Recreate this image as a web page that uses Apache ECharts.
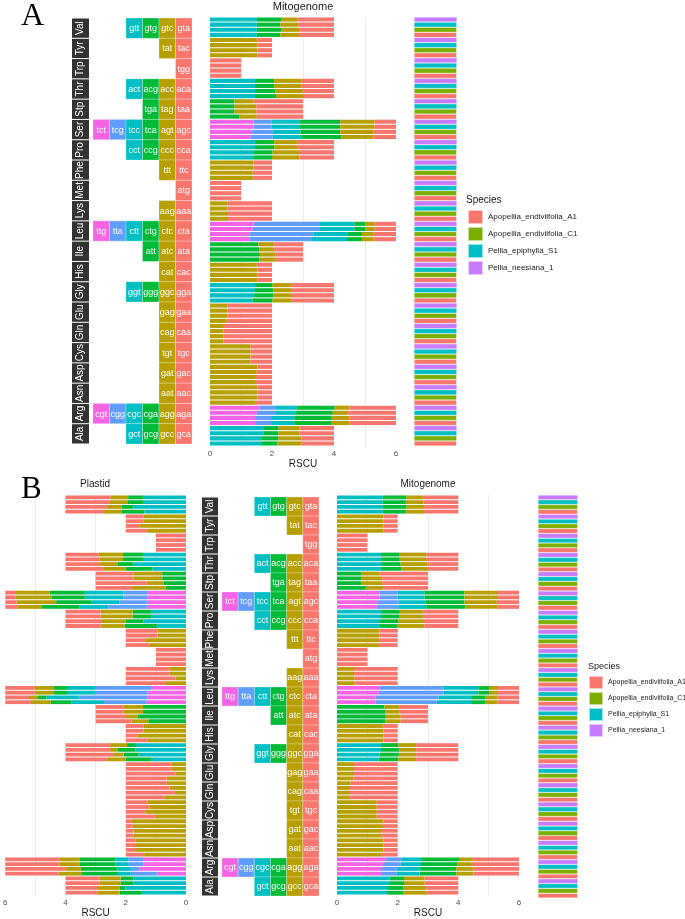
<!DOCTYPE html>
<html>
<head>
<meta charset="utf-8">
<script src="https://cdn.jsdelivr.net/npm/echarts@6/dist/echarts.min.js"></script>
<style>
  html, body { margin: 0; padding: 0; background: #fff; }
  #chart { width: 685px; height: 919px; }
</style>
</head>
<body>
<div id="chart"></div>
<script>
// amino acids, top to bottom
var aminoAcids = ['Val', 'Tyr', 'Trp', 'Thr', 'Stp', 'Ser', 'Pro', 'Phe', 'Met', 'Lys', 'Leu',
    'Ile', 'His', 'Gly', 'Glu', 'Gln', 'Cys', 'Asp', 'Asn', 'Arg', 'Ala'];

// codons of each amino acid, left to right (last one sits in column 6)
var codonsByAA = [
    ['gtt', 'gtg', 'gtc', 'gta'], ['tat', 'tac'], ['tgg'], ['act', 'acg', 'acc', 'aca'],
    ['tga', 'tag', 'taa'], ['tct', 'tcg', 'tcc', 'tca', 'agt', 'agc'], ['cct', 'ccg', 'ccc', 'cca'],
    ['ttt', 'ttc'], ['atg'], ['aag', 'aaa'], ['ttg', 'tta', 'ctt', 'ctg', 'ctc', 'cta'],
    ['att', 'atc', 'ata'], ['cat', 'cac'], ['ggt', 'ggg', 'ggc', 'gga'], ['gag', 'gaa'],
    ['cag', 'caa'], ['tgt', 'tgc'], ['gat', 'gac'], ['aat', 'aac'],
    ['cgt', 'cgg', 'cgc', 'cga', 'agg', 'aga'], ['gct', 'gcg', 'gcc', 'gca']
];

// species, top to bottom inside each amino acid
var speciesRows = ['Pellia_neesiana_1', 'Pellia_epiphylla_S1', 'Apopellia_endiviifolia_C1', 'Apopellia_endiviifolia_A1'];
var legendNames = ['Apopellia_endiviifolia_A1', 'Apopellia_endiviifolia_C1', 'Pellia_epiphylla_S1', 'Pellia_neesiana_1'];

// RSCU, mitogenome
var mitoNeesiana = [
    [1.51, 0.78, 0.54, 1.17], [1.53, 0.47], [1], [1.45, 0.62, 0.87, 1.06], [0.79, 0.61, 1.60],
    [1.40, 0.59, 0.89, 1.32, 1.11, 0.69], [1.45, 0.62, 0.76, 1.17], [1.40, 0.60], [1], [0.56, 1.44],
    [1.40, 2.12, 1.14, 0.35, 0.30, 0.69], [1.56, 0.51, 0.93], [1.51, 0.49], [1.45, 0.57, 0.59, 1.39],
    [0.56, 1.44], [0.45, 1.55], [1.31, 0.69], [1.53, 0.47], [1.53, 0.47],
    [1.59, 0.54, 0.67, 1.22, 0.48, 1.50], [1.74, 0.47, 0.68, 1.11]
];
var mitoEpiphylla = [
    [1.51, 0.76, 0.58, 1.15], [1.53, 0.47], [1], [1.45, 0.62, 0.87, 1.06], [0.79, 0.70, 1.51],
    [1.40, 0.59, 0.89, 1.32, 1.11, 0.69], [1.45, 0.62, 0.76, 1.17], [1.40, 0.60], [1], [0.56, 1.44],
    [1.38, 2.14, 1.14, 0.35, 0.30, 0.69], [1.59, 0.48, 0.93], [1.53, 0.47], [1.45, 0.59, 0.57, 1.39],
    [0.56, 1.44], [0.43, 1.57], [1.31, 0.69], [1.51, 0.49], [1.53, 0.47],
    [1.51, 0.59, 0.67, 1.19, 0.46, 1.58], [1.72, 0.49, 0.68, 1.11]
];
var mitoC1 = [
    [1.51, 0.78, 0.58, 1.13], [1.53, 0.47], [1], [1.45, 0.65, 0.89, 1.01], [0.79, 0.70, 1.51],
    [1.35, 0.68, 0.89, 1.28, 1.07, 0.73], [1.42, 0.60, 0.85, 1.13], [1.38, 0.62], [1], [0.58, 1.42],
    [1.27, 2.07, 1.11, 0.45, 0.38, 0.72], [1.61, 0.49, 0.90], [1.53, 0.47], [1.40, 0.64, 0.57, 1.39],
    [0.56, 1.44], [0.43, 1.57], [1.31, 0.69], [1.45, 0.55], [1.53, 0.47],
    [1.45, 0.52, 0.75, 1.21, 0.57, 1.50], [1.65, 0.55, 0.74, 1.06]
];
var mitoA1 = [
    [1.51, 0.76, 0.60, 1.13], [1.53, 0.47], [1], [1.45, 0.68, 0.87, 1.00], [0.95, 0.56, 1.49],
    [1.31, 0.71, 0.92, 1.30, 1.04, 0.72], [1.42, 0.58, 0.88, 1.12], [1.38, 0.62], [1], [0.58, 1.42],
    [1.27, 2.02, 1.13, 0.48, 0.38, 0.72], [1.59, 0.51, 0.90], [1.53, 0.47], [1.37, 0.65, 0.59, 1.39],
    [0.54, 1.46], [0.43, 1.57], [1.31, 0.69], [1.45, 0.55], [1.45, 0.55],
    [1.45, 0.52, 0.75, 1.21, 0.57, 1.50], [1.65, 0.53, 0.78, 1.04]
];

// RSCU, plastid
var plastidNeesiana = [
    [1.43, 0.49, 0.58, 1.50], [1.41, 0.59], [1], [1.43, 0.66, 0.82, 1.09], [0.79, 0.95, 1.26],
    [1.27, 0.80, 1.29, 1.17, 1.15, 0.32], [1.16, 0.61, 1.06, 1.17], [0.94, 1.06], [1], [0.54, 1.46],
    [1.16, 1.86, 0.90, 0.46, 0.64, 0.98], [1.43, 0.64, 0.93], [1.41, 0.59], [1.66, 0.30, 0.56, 1.48],
    [0.48, 1.52], [0.64, 1.36], [1.27, 0.73], [1.79, 0.21], [1.68, 0.32],
    [1.43, 0.49, 0.42, 1.20, 0.66, 1.80], [1.74, 0.43, 0.69, 1.14]
];
var plastidEpiphylla = [
    [1.43, 0.52, 0.60, 1.45], [1.41, 0.59], [1], [1.43, 0.66, 0.79, 1.12], [0.79, 0.95, 1.26],
    [1.27, 0.80, 1.29, 1.11, 1.18, 0.35], [1.16, 0.61, 1.06, 1.17], [0.94, 1.06], [1], [0.54, 1.46],
    [1.27, 1.75, 0.90, 0.46, 0.64, 0.98], [1.43, 0.65, 0.92], [1.41, 0.59], [1.68, 0.60, 0.24, 1.48],
    [0.48, 1.52], [0.54, 1.46], [1.21, 0.79], [1.77, 0.23], [1.66, 0.34],
    [1.41, 0.49, 0.44, 1.20, 0.66, 1.80], [1.74, 0.43, 0.69, 1.14]
];
var plastidC1 = [
    [1.74, 0.40, 0.49, 1.37], [1.54, 0.46], [1], [1.74, 0.54, 0.57, 1.15], [0.75, 0.55, 1.70],
    [1.30, 0.91, 0.92, 1.18, 1.31, 0.38], [1.41, 0.60, 0.81, 1.18], [1.33, 0.67], [1], [0.35, 1.65],
    [1.27, 2.29, 1.07, 0.28, 0.30, 0.79], [1.60, 0.42, 0.98], [1.60, 0.40], [1.57, 0.50, 0.32, 1.61],
    [0.35, 1.65], [0.37, 1.63], [1.33, 0.67], [1.74, 0.26], [1.66, 0.34],
    [1.54, 0.29, 0.45, 1.21, 0.49, 2.02], [2.01, 0.19, 0.72, 1.08]
];
var plastidA1 = [
    [1.38, 0.77, 0.57, 1.28], [1.30, 0.70], [1], [1.11, 0.90, 0.71, 1.28], [0.68, 1.11, 1.21],
    [1.30, 1.28, 0.96, 1.26, 0.78, 0.42], [0.97, 1.07, 0.79, 1.17], [1.22, 0.78], [1], [0.70, 1.30],
    [1.30, 1.42, 1.09, 0.68, 0.66, 0.85], [1.25, 0.56, 1.19], [1.27, 0.73], [1.16, 0.85, 0.58, 1.41],
    [0.64, 1.36], [0.72, 1.28], [1.00, 1.00], [1.74, 0.26], [1.39, 0.61],
    [0.97, 0.86, 0.43, 1.19, 0.78, 1.77], [1.49, 0.71, 0.74, 1.06]
];

var codonColors = ['#F564E3', '#619CFF', '#00BFC4', '#00BA38', '#B79F00', '#F8766D'];
var speciesColors = {
    'Apopellia_endiviifolia_A1': '#F8766D',
    'Apopellia_endiviifolia_C1': '#7CAE00',
    'Pellia_epiphylla_S1': '#00BFC4',
    'Pellia_neesiana_1': '#C77CFF'
};
var FONT = 'Liberation Sans, Arial, sans-serif';

// one row per amino acid x species
var rowNames = [];
aminoAcids.forEach(function (aa) {
    speciesRows.forEach(function (sp) { rowNames.push(aa + '|' + sp); });
});

// codon tiles
var tiles = [];
codonsByAA.forEach(function (list, a) {
    list.forEach(function (codon, i) {
        tiles.push({ col: 6 - list.length + i, row: a, codon: codon });
    });
});

function tileRender(params, api) {
    var t = tiles[params.dataIndex];
    var p = api.coord([t.col, t.row]);
    var s = api.size([1, 1]);
    return {
        type: 'group',
        children: [{
            type: 'rect',
            shape: { x: p[0] - s[0] / 2, y: p[1] - s[1] / 2, width: s[0], height: s[1] },
            style: { fill: codonColors[t.col], stroke: 'rgba(255,255,255,0.45)', lineWidth: 0.6 }
        }, {
            type: 'text',
            style: {
                text: t.codon, x: p[0], y: p[1] + 0.5, align: 'center', verticalAlign: 'middle',
                fill: '#fff', fontSize: 9, fontFamily: FONT
            }
        }]
    };
}

function stripRender(params, api) {
    var p = api.coord([0, params.dataIndex]);
    var s = api.size([1, 1]);
    return {
        type: 'group',
        children: [{
            type: 'rect',
            shape: { x: p[0] - s[0] / 2, y: p[1] - s[1] / 2 + 0.5, width: s[0], height: s[1] - 1 },
            style: { fill: '#333333' }
        }, {
            type: 'text',
            x: p[0], y: p[1],
            rotation: Math.PI / 2,
            style: {
                text: aminoAcids[params.dataIndex], x: 0, y: 0, align: 'center', verticalAlign: 'middle',
                fill: '#fff', fontSize: 10, fontFamily: FONT
            }
        }]
    };
}

// stacked RSCU bars, one series per codon column
function rscuSeries(prefix, axisIndex, tables) {
    var out = [];
    for (var c = 0; c < 6; c++) {
        var data = [];
        codonsByAA.forEach(function (list, a) {
            var i = c - (6 - list.length);
            tables.forEach(function (t) { data.push(i >= 0 ? t[a][i] : 0); });
        });
        out.push({
            type: 'bar', name: prefix + c, xAxisIndex: axisIndex, yAxisIndex: axisIndex,
            stack: prefix, data: data, barCategoryGap: '20%', silent: true,
            itemStyle: { color: codonColors[c] }
        });
    }
    return out;
}

// species colour column
function speciesSeries(prefix, axisIndex) {
    return legendNames.map(function (sp) {
        var data = rowNames.map(function (r) { return r.split('|')[1] === sp ? 1 : 0; });
        return {
            type: 'bar', name: sp, xAxisIndex: axisIndex, yAxisIndex: axisIndex,
            stack: prefix, data: data, barCategoryGap: '0%', silent: true,
            itemStyle: { color: speciesColors[sp], borderColor: 'rgba(255,255,255,0.6)', borderWidth: 0.5 }
        };
    });
}

function catAxis(gridIndex, data) {
    return { type: 'category', gridIndex: gridIndex, data: data, inverse: true, show: false };
}

function rscuAxis(gridIndex, inverse, nameGap) {
    return {
        type: 'value', gridIndex: gridIndex, min: 0, max: 6, interval: 1, inverse: inverse,
        axisLine: { show: false }, axisTick: { show: false },
        axisLabel: {
            fontSize: 8, color: '#4d4d4d', margin: 4, fontFamily: FONT,
            formatter: function (v) { return v % 2 === 0 ? String(v) : ''; }
        },
        splitLine: { show: true, lineStyle: { color: ['rgba(0,0,0,0)', '#ebebeb'], width: 1 } },
        name: 'RSCU', nameLocation: 'middle', nameGap: nameGap,
        nameTextStyle: { fontSize: 10, color: '#1a1a1a', fontFamily: FONT }
    };
}

var hiddenCat = function (gridIndex, data) {
    return { type: 'category', gridIndex: gridIndex, data: data, show: false };
};
var hiddenVal = function (gridIndex) {
    return { type: 'value', gridIndex: gridIndex, min: 0, max: 1, show: false, splitLine: { show: false } };
};

var colIdx = [0, 1, 2, 3, 4, 5];

var chart = echarts.init(document.getElementById('chart'));
chart.setOption({
    animation: false,
    textStyle: { fontFamily: FONT },
    title: [
        { text: 'A', left: 21, top: 1, padding: 0, textStyle: { fontFamily: 'Liberation Serif, serif', fontSize: 32, fontWeight: 'normal', color: '#000' } },
        { text: 'Mitogenome', left: 303, top: 1, textAlign: 'center', padding: 0, textStyle: { fontSize: 11, fontWeight: 'normal', color: '#1a1a1a' } },
        { text: 'Species', left: 466, top: 195, padding: 0, textStyle: { fontSize: 10, fontWeight: 'normal', color: '#1a1a1a' } },
        { text: 'B', left: 21, top: 474, padding: 0, textStyle: { fontFamily: 'Liberation Serif, serif', fontSize: 31, fontWeight: 'normal', color: '#000' } },
        { text: 'Plastid', left: 95, top: 479, textAlign: 'center', padding: 0, textStyle: { fontSize: 10, fontWeight: 'normal', color: '#1a1a1a' } },
        { text: 'Mitogenome', left: 428, top: 479, textAlign: 'center', padding: 0, textStyle: { fontSize: 10, fontWeight: 'normal', color: '#1a1a1a' } },
        { text: 'Species', left: 588, top: 662, padding: 0, textStyle: { fontSize: 9, fontWeight: 'normal', color: '#1a1a1a' } }
    ],
    legend: [
        { data: legendNames, orient: 'vertical', left: 467, top: 209, padding: 0, icon: 'rect', itemWidth: 15, itemHeight: 14, itemGap: 1, selectedMode: false, textStyle: { fontSize: 8, color: '#1a1a1a' } },
        { data: legendNames, orient: 'vertical', left: 588, top: 675, padding: 0, icon: 'rect', itemWidth: 14, itemHeight: 13, itemGap: 1, selectedMode: false, textStyle: { fontSize: 7, color: '#1a1a1a' } }
    ],
    grid: [
        { left: 72, top: 18, width: 17, height: 426 },   // 0 A strip
        { left: 93, top: 18, width: 99, height: 426 },   // 1 A codons
        { left: 210, top: 17, width: 186, height: 429 }, // 2 A mito bars
        { left: 414, top: 17, width: 43, height: 429 },  // 3 A species column
        { left: 4, top: 495, width: 182, height: 403 },  // 4 B plastid bars
        { left: 202, top: 497, width: 16, height: 399 }, // 5 B strip
        { left: 222, top: 497, width: 97, height: 399 }, // 6 B codons
        { left: 337, top: 495, width: 182, height: 403 },// 7 B mito bars
        { left: 538, top: 495, width: 40, height: 403 }  // 8 B species column
    ],
    xAxis: [
        hiddenCat(0, ['']),
        hiddenCat(1, colIdx),
        rscuAxis(2, false, 11),
        hiddenVal(3),
        rscuAxis(4, true, 10),
        hiddenCat(5, ['']),
        hiddenCat(6, colIdx),
        rscuAxis(7, false, 10),
        hiddenVal(8)
    ],
    yAxis: [
        catAxis(0, aminoAcids),
        catAxis(1, aminoAcids),
        catAxis(2, rowNames),
        catAxis(3, rowNames),
        catAxis(4, rowNames),
        catAxis(5, aminoAcids),
        catAxis(6, aminoAcids),
        catAxis(7, rowNames),
        catAxis(8, rowNames)
    ],
    series: [].concat(
        [{ type: 'custom', xAxisIndex: 0, yAxisIndex: 0, renderItem: stripRender, data: aminoAcids.map(function (aa, i) { return [0, i]; }), silent: true }],
        [{ type: 'custom', xAxisIndex: 1, yAxisIndex: 1, renderItem: tileRender, data: tiles.map(function (t) { return [t.col, t.row]; }), silent: true }],
        rscuSeries('mitoA', 2, [mitoNeesiana, mitoEpiphylla, mitoC1, mitoA1]),
        speciesSeries('spA', 3),
        rscuSeries('plastidB', 4, [plastidNeesiana, plastidEpiphylla, plastidC1, plastidA1]),
        [{ type: 'custom', xAxisIndex: 5, yAxisIndex: 5, renderItem: stripRender, data: aminoAcids.map(function (aa, i) { return [0, i]; }), silent: true }],
        [{ type: 'custom', xAxisIndex: 6, yAxisIndex: 6, renderItem: tileRender, data: tiles.map(function (t) { return [t.col, t.row]; }), silent: true }],
        rscuSeries('mitoB', 7, [mitoNeesiana, mitoEpiphylla, mitoC1, mitoA1]),
        speciesSeries('spB', 8)
    )
});
</script>
</body>
</html>
